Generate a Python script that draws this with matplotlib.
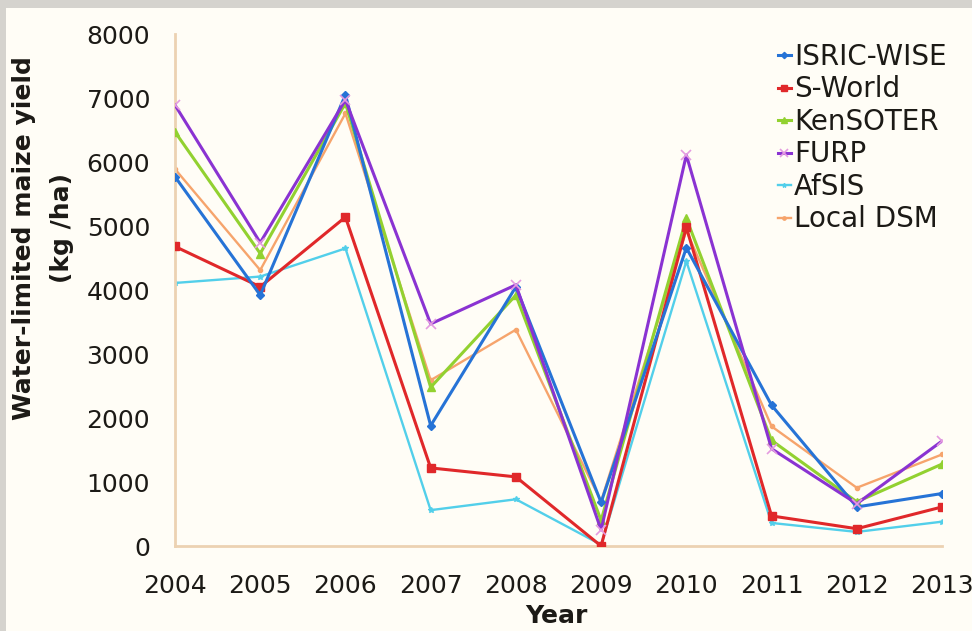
import matplotlib
matplotlib.use("Agg")
import matplotlib.pyplot as plt
import matplotlib.patches as patches
import numpy as np

years = [2004, 2005, 2006, 2007, 2008, 2009, 2010, 2011, 2012, 2013]

isric_wise = [5770, 3920, 7050, 1880, 4050, 680, 4660, 2200, 610, 820]
s_world = [4680, 4050, 5140, 1220, 1080, 0, 4980, 470, 270, 610]
kensoter = [6470, 4570, 6920, 2480, 3920, 400, 5120, 1650, 690, 1280]
furp = [6890, 4740, 6970, 3470, 4080, 250, 6110, 1520, 660, 1640]
afsis = [4110, 4210, 4650, 560, 730, 20, 4450, 360, 220, 380]
local_dsm = [5890, 4310, 6760, 2590, 3380, 700, 4930, 1870, 910, 1430]

labels = ["ISRIC-WISE", "S-World", "KenSOTER", "FURP", "AfSIS", "Local DSM"]

bg = "#fffdf6"
spine_col = "#ecd2b2"
txt = "#1c1a16"

fig = plt.figure(figsize=(9.72, 6.31), dpi=100)
fig.patch.set_facecolor("#d5d3ce")
# cream panel inside the grey frame
fig.patches.append(patches.Rectangle((6 / 972, 0), 1, 1 - 8 / 631,
                                     transform=fig.transFigure,
                                     facecolor=bg, edgecolor="none", zorder=-10))

ax = fig.add_axes([175 / 972, 1 - 546 / 631, 767 / 972, 512 / 631])
ax.set_facecolor("none")
ax.set_zorder(2)

ax.plot(years, isric_wise, color="#2673d6", lw=2.2, marker="D", ms=4, label=labels[0], zorder=5)
ax.plot(years, s_world, color="#e0282a", lw=2.2, marker="s", ms=6, label=labels[1], zorder=4)
ax.plot(years, kensoter, color="#92d130", lw=2.2, marker="^", ms=6, label=labels[2], zorder=3)
ax.plot(years, furp, color="#8a33d2", lw=2.2, marker="x", ms=7, mec="#e49be0", mew=1.2,
        label=labels[3], zorder=6)
ax.plot(years, afsis, color="#52cfea", lw=1.7, marker="*", ms=4, label=labels[4], zorder=2)
ax.plot(years, local_dsm, color="#f6a46c", lw=1.7, marker="o", ms=3, label=labels[5], zorder=1)

ax.set_xlim(2004, 2013)
ax.set_ylim(0, 8000)
ax.set_xticks(years)
ax.set_yticks(np.arange(0, 8001, 1000))

for s in ["top", "right"]:
    ax.spines[s].set_visible(False)
for s in ["left", "bottom"]:
    ax.spines[s].set_color(spine_col)
    ax.spines[s].set_linewidth(2)

ax.tick_params(axis="both", length=0, labelsize=18, labelcolor=txt)
ax.tick_params(axis="y", pad=18)
ax.tick_params(axis="x", pad=20)

fig.text(556 / 972, 1 - 616 / 631, "Year", ha="center", va="center",
         fontsize=18, fontweight="bold", color=txt)
fig.text(24 / 972, 1 - 238 / 631, "Water-limited maize yield", rotation=90,
         ha="center", va="center", fontsize=18, fontweight="bold", color=txt)
fig.text(62 / 972, 1 - 228 / 631, "(kg /ha)", rotation=90,
         ha="center", va="center", fontsize=18, fontweight="bold", color=txt)

leg = ax.legend(loc="upper left", bbox_to_anchor=(778 / 972, 1 - 43 / 631),
                bbox_transform=fig.transFigure, frameon=False, fontsize=20,
                handlelength=0.45, handletextpad=0.12, labelspacing=0.16,
                borderpad=0, borderaxespad=0, markerscale=0.8)
for t in leg.get_texts():
    t.set_color(txt)

fig.savefig("out.png", dpi=100, facecolor=fig.get_facecolor())
